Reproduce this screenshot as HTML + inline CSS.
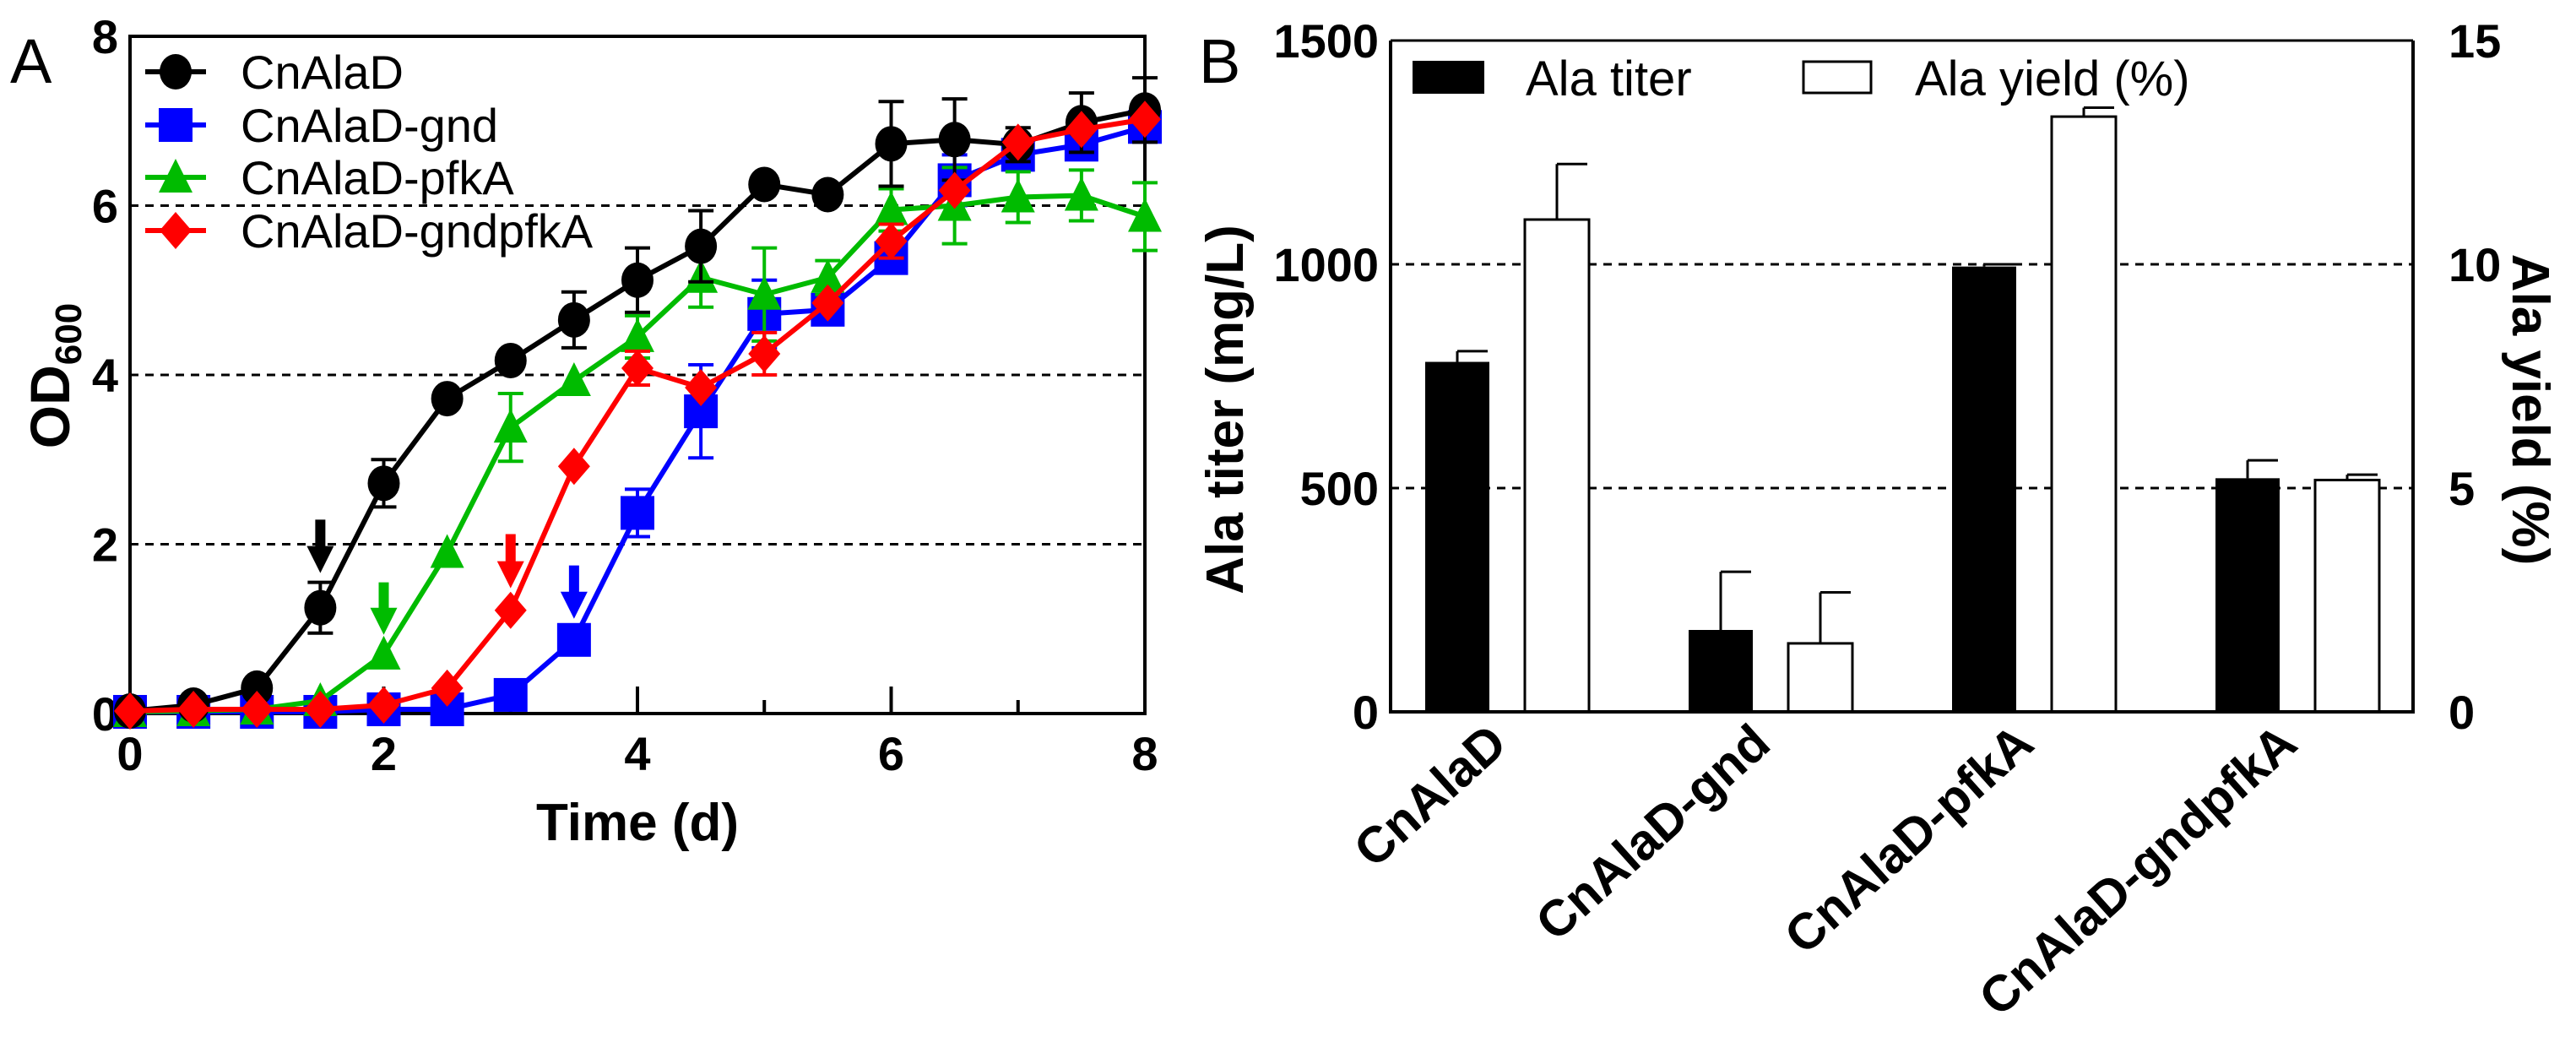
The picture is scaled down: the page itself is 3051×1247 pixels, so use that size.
<!DOCTYPE html>
<html><head><meta charset="utf-8"><style>
html,body{margin:0;padding:0;background:#fff;}
svg{display:block;font-family:"Liberation Sans",Arial,sans-serif;}
</style></head><body>
<svg id="fig" width="3051" height="1247" viewBox="0 0 3051 1247" xmlns="http://www.w3.org/2000/svg">
<g id="A"></g>
<g id="B"></g>
</svg>
<script>
// ---------- Panel A data ----------
const times = [0,0.5,1,1.5,2,2.5,3,3.5,4,4.5,5,5.5,6,6.5,7,7.5,8];
const seriesNames = ["CnAlaD","CnAlaD-gnd","CnAlaD-pfkA","CnAlaD-gndpfkA"];
const odCnAlaD = [0.03,0.1,0.3,1.25,2.72,3.72,4.17,4.65,5.12,5.52,6.25,6.13,6.73,6.78,6.72,6.98,7.13];
const errCnAlaD = [0,0,0,0.3,0.28,0,0,0.33,0.38,0.42,0,0,0.5,0.48,0.2,0.35,0.38];
const odGnd = [0.02,0.02,0.02,0.02,0.05,0.05,0.22,0.87,2.37,3.57,4.72,4.77,5.38,6.3,6.6,6.72,6.93];
const errGnd = [0,0,0,0,0,0,0,0,0.28,0.55,0.4,0,0.1,0.3,0,0.15,0];
const odPfkA = [0.02,0.03,0.05,0.15,0.7,1.9,3.38,3.93,4.45,5.15,4.95,5.15,5.95,6.0,6.1,6.12,5.87];
const errPfkA = [0,0,0,0,0,0,0.4,0,0.25,0.35,0.55,0.2,0.25,0.45,0.3,0.3,0.4];
const odGndPfkA = [0.03,0.05,0.05,0.05,0.1,0.3,1.22,2.92,4.08,3.85,4.25,4.85,5.58,6.18,6.75,6.9,7.02];
const errGndPfkA = [0,0,0,0,0,0,0,0,0.2,0,0.25,0,0.2,0,0,0,0];
const arrowTimes = [1.5,2,3,3.5];
const arrowTop = [2.29,1.55,2.12,1.75];
const arrowTip = [1.66,0.93,1.48,1.12];
const xTicksA = [0,2,4,6,8];
const yTicksA = [0,2,4,6,8];
// ---------- Panel B data ----------
const strains = ["CnAlaD","CnAlaD-gnd","CnAlaD-pfkA","CnAlaD-gndpfkA"];
const titer = [782,183,995,522];
const titerErr = [24,130,5,40];
const yieldPct = [11.0,1.53,13.3,5.18];
const yieldErr = [1.24,1.14,0.2,0.12];
const yTicksLeft = [0,500,1000,1500];
const yTicksRight = [0,5,10,15];

const NS="http://www.w3.org/2000/svg";
function mk(parent,tag,attrs,text){const e=document.createElementNS(NS,tag);for(const k in attrs)e.setAttribute(k,attrs[k]);if(text!==undefined)e.textContent=text;parent.appendChild(e);return e;}

// ===== Panel A =====
const A=document.getElementById('A');
const ax0=154,ax1=1356,ay0=845,ay1=43;
const xA=t=>ax0+(t/8)*(ax1-ax0);
const yA=v=>ay0-(v/8)*(ay0-ay1);
let t;
t=mk(A,'text',{x:12,y:98,'font-size':74},'A');


[2,4,6].forEach(v=>{const l=mk(A,'line',{x1:ax0,x2:ax1,y1:yA(v),y2:yA(v),stroke:'#000','stroke-width':3,'stroke-dasharray':'10,8'});

});
const fr=mk(A,'rect',{x:ax0,y:ay1,width:ax1-ax0,height:ay0-ay1,fill:'none',stroke:'#000','stroke-width':4});


for(let i=1;i<8;i++){const len=(i%2===0)?32:16;const l=mk(A,'line',{x1:xA(i),x2:xA(i),y1:ay0,y2:ay0-len,stroke:'#000','stroke-width':4});

}
xTicksA.forEach(v=>{const e=mk(A,'text',{x:xA(v),y:912,'font-size':56,'font-weight':'bold','text-anchor':'middle'},String(v));

});
yTicksA.forEach(v=>{const e=mk(A,'text',{x:140,y:yA(v)+20,'font-size':56,'font-weight':'bold','text-anchor':'end'},String(v));

});
t=mk(A,'text',{x:xA(4),y:995,'font-size':62,'font-weight':'bold','text-anchor':'middle'},'Time (d)');


t=mk(A,'text',{x:0,y:0,'font-size':66,'font-weight':'bold','text-anchor':'middle',transform:'translate(82,445) rotate(-90)'});


t.innerHTML='OD<tspan font-size="44" dy="14">600</tspan>';

const colors=['#000000','#0000ff','#00bb00','#ff0000'];
const allOD=[odCnAlaD,odGnd,odPfkA,odGndPfkA];
const allErr=[errCnAlaD,errGnd,errPfkA,errGndPfkA];
const slugs=['cnalad','gnd','pfka','gndpfka'];
function marker(g,kind,cx,cy,col){
  if(kind===0) return mk(g,'ellipse',{cx,cy,rx:19,ry:21,fill:col});
  if(kind===1) return mk(g,'rect',{x:cx-20,y:cy-20,width:40,height:40,fill:col});
  if(kind===2) return mk(g,'polygon',{points:`${cx},${cy-22} ${cx+20},${cy+18} ${cx-20},${cy+18}`,fill:col});
  return mk(g,'polygon',{points:`${cx},${cy-22} ${cx+19},${cy} ${cx},${cy+22} ${cx-19},${cy}`,fill:col});
}
[1,2,0,3].forEach(s=>{
  const g=mk(A,'g',{});
  
  
  const col=colors[s];
  allErr[s].forEach((e,i)=>{if(e>0){const x=xA(times[i]);const y1=yA(allOD[s][i]-e),y2=yA(allOD[s][i]+e);
    const eb=mk(g,'path',{d:`M${x},${y1}V${y2}M${x-15},${y1}h30M${x-15},${y2}h30`,stroke:col,'stroke-width':4,fill:'none'});
    
    }});
  const pts=times.map((tt,i)=>xA(tt)+','+yA(allOD[s][i])).join(' ');
  const pl=mk(g,'polyline',{points:pts,fill:'none',stroke:col,'stroke-width':6,'stroke-linejoin':'round'});
  
  
  times.forEach((tt,i)=>{const m=marker(g,s,xA(tt),yA(allOD[s][i]),col);
    
    });
});
const arrowColors=['#000000','#00bb00','#ff0000','#0000ff'];
arrowTimes.forEach((tt,i)=>{const x=xA(tt),y0=yA(arrowTop[i]),y1=yA(arrowTip[i]);
  const a=mk(A,'path',{d:`M${x-6},${y0}h12V${y1-32}h10L${x},${y1}L${x-16},${y1-32}h10Z`,fill:arrowColors[i]});
  
  });
const legY=[85,148,210,273];
seriesNames.forEach((n,i)=>{const g=mk(A,'g',{});
  
  
  mk(g,'line',{x1:172,x2:244,y1:legY[i],y2:legY[i],stroke:colors[i],'stroke-width':6});
  marker(g,i,208,legY[i],colors[i]);
  mk(g,'text',{x:285,y:legY[i]+20,'font-size':56,textLength:'',lengthAdjust:'spacingAndGlyphs'},n);
});

// ===== Panel B =====
const B=document.getElementById('B');
const bx0=1647,bx1=2858,by0=843,by1=48;
const yL=v=>by0-(v/1500)*(by0-by1);
const yR=v=>by0-(v/15)*(by0-by1);
const groupX=i=>1688+i*312;
const bw=76;
t=mk(B,'text',{x:1420,y:98,'font-size':74},'B');


[500,1000].forEach(v=>{const l=mk(B,'line',{x1:bx0,x2:bx1,y1:yL(v),y2:yL(v),stroke:'#000','stroke-width':3,'stroke-dasharray':'10,8'});

});
strains.forEach((s,i)=>{
  const x=groupX(i);
  const e1=mk(B,'path',{d:`M${x+bw/2},${yL(titer[i])}V${yL(titer[i]+titerErr[i])}M${x+bw/2},${yL(titer[i]+titerErr[i])}h36`,stroke:'#000','stroke-width':3,fill:'none'});
  
  
  const r1=mk(B,'rect',{x:x,y:yL(titer[i]),width:bw,height:by0-yL(titer[i]),fill:'#000'});
  
  
  const x2=x+118;
  const e2=mk(B,'path',{d:`M${x2+bw/2},${yR(yieldPct[i])}V${yR(yieldPct[i]+yieldErr[i])}M${x2+bw/2},${yR(yieldPct[i]+yieldErr[i])}h36`,stroke:'#000','stroke-width':3,fill:'none'});
  
  
  const r2=mk(B,'rect',{x:x2,y:yR(yieldPct[i]),width:bw,height:by0-yR(yieldPct[i]),fill:'#fff',stroke:'#000','stroke-width':3});
  
  
  const lab=mk(B,'text',{x:0,y:0,'font-size':60,'font-weight':'bold','text-anchor':'end',transform:`translate(${x+100},${885}) rotate(-42)`},s);
  
  
});
const frB=mk(B,'path',{d:`M${bx0},${by1}V${by0}H${bx1}V${by1}`,fill:'none',stroke:'#000','stroke-width':4});


const topB=mk(B,'line',{x1:bx0,x2:bx1,y1:by1,y2:by1,stroke:'#000','stroke-width':3});


yTicksLeft.forEach(v=>{const e=mk(B,'text',{x:1633,y:yL(v)+20,'font-size':56,'font-weight':'bold','text-anchor':'end'},String(v));

});
yTicksRight.forEach(v=>{const e=mk(B,'text',{x:2900,y:yR(v)+20,'font-size':56,'font-weight':'bold'},String(v));

});
t=mk(B,'text',{x:0,y:0,'font-size':62,'font-weight':'bold','text-anchor':'middle',transform:'translate(1472,485) rotate(-90)'},'Ala titer (mg/L)');


t=mk(B,'text',{x:0,y:0,'font-size':62,'font-weight':'bold','text-anchor':'middle',transform:'translate(2976,485) rotate(90)'},'Ala yield (%)');


let lg=mk(B,'g',{});


mk(lg,'rect',{x:1673,y:72,width:85,height:39,fill:'#000'});
mk(lg,'text',{x:1807,y:113,'font-size':58},'Ala titer');
lg=mk(B,'g',{});


mk(lg,'rect',{x:2136,y:73,width:80,height:37,fill:'#fff',stroke:'#000','stroke-width':3});
mk(lg,'text',{x:2268,y:113,'font-size':58},'Ala yield (%)');
</script>
</body></html>
